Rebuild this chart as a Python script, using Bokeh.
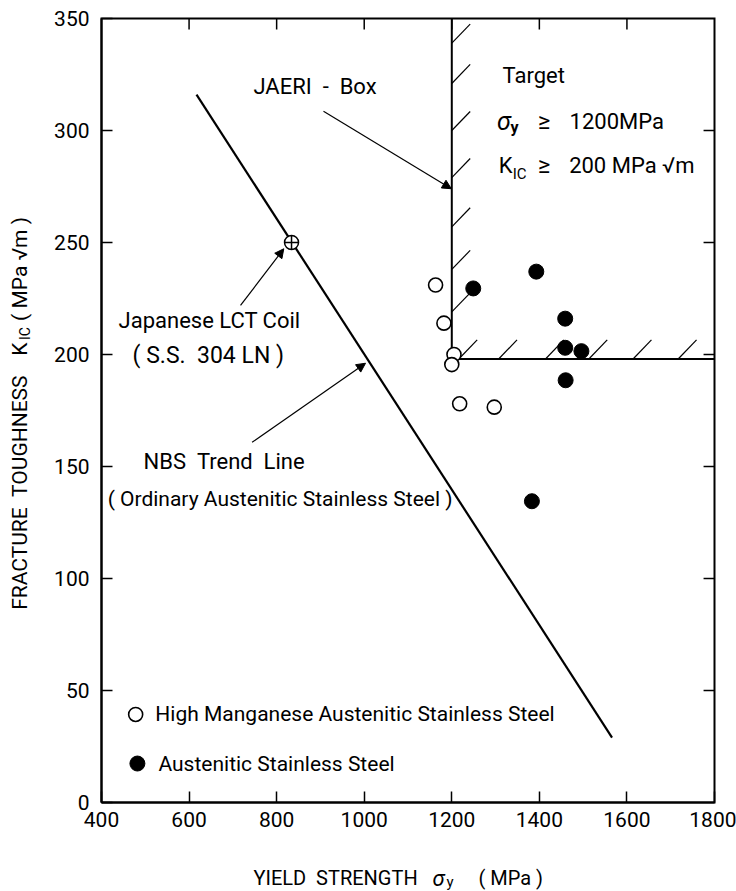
import math
from bokeh.plotting import figure
from bokeh.models import Range1d, FixedTicker, Label, Arrow, NormalHead
from bokeh.embed import file_html
from bokeh.resources import INLINE

# ---------------- data ----------------
x_ticks = [400, 600, 800, 1000, 1200, 1400, 1600, 1800]
y_ticks = [0, 50, 100, 150, 200, 250, 300, 350]

# High manganese austenitic stainless steel (open circles)
hm_x = [1163, 1182, 1205, 1200, 1218, 1297]
hm_y = [231, 214, 200, 195.5, 178, 176.5]
# Austenitic stainless steel (filled circles)
ss_x = [1249, 1393, 1459, 1459, 1496, 1460, 1383]
ss_y = [229.5, 237, 216, 203, 201.5, 188.5, 134.5]
# Japanese LCT coil (S.S. 304LN)
coil_x = [834]
coil_y = [250]
# NBS trend line
trend_x = [617, 1566]
trend_y = [316, 29]
# JAERI box boundary (sigma_y >= 1200, K_IC >= 200)
box_x = [1200, 1200, 1800]
box_y = [350, 198, 198]
# hatch anchors on the box boundary
hatch_v_y = [219, 238, 257, 279, 300, 321, 339]
hatch_h_x = [1216, 1307, 1414, 1513, 1614, 1717]

X0, X1, Y0, Y1 = 400, 1800, 0, 350
FONT = "Roboto"
S = "\u00a0"  # non-breaking space (keeps wide word spacing in SVG)

p = figure(width=736, height=891, output_backend="svg", toolbar_location=None,
           x_range=Range1d(169.33, 1850.24), y_range=Range1d(-39.73, 358.04),
           min_border=0, min_border_left=0, min_border_right=0,
           min_border_top=0, min_border_bottom=0)
p.grid.visible = False
p.background_fill_color = "white"
p.border_fill_color = "white"
p.outline_line_color = None

for ax in p.xaxis + p.yaxis:
    ax.major_tick_in = 11
    ax.major_tick_out = 0
    ax.minor_tick_line_color = None
    ax.axis_line_width = 2
    ax.major_tick_line_width = 1.5
    ax.axis_line_color = "black"
    ax.major_tick_line_color = "black"
    ax.major_label_text_font = FONT
    ax.major_label_text_font_size = "21px"
    ax.major_label_text_color = "black"
p.xaxis.ticker = FixedTicker(ticks=x_ticks)
p.yaxis.ticker = FixedTicker(ticks=y_ticks)
p.xaxis.fixed_location = Y0
p.yaxis.fixed_location = X0
p.xaxis.bounds = (X0, X1)
p.yaxis.bounds = (Y0, Y1)
p.xaxis.major_label_standoff = 9
p.yaxis.major_label_standoff = 12

# frame box and inward ticks on the top and right edges
p.line([X0, X1, X1, X0, X0], [Y0, Y0, Y1, Y1, Y0], line_color="black", line_width=2, line_join="miter")
ty = y_ticks[1:-1]
tx = x_ticks[1:-1]
p.segment(x0=[X1] * len(ty), y0=ty, x1=[X1 - 25] * len(ty), y1=ty, line_color="black", line_width=1.5)
p.segment(x0=tx, y0=[Y1] * len(tx), x1=tx, y1=[Y1 - 4.9] * len(tx), line_color="black", line_width=1.5)

# trend line and box
p.line(trend_x, trend_y, line_color="black", line_width=2.2)
p.line(box_x, box_y, line_color="black", line_width=2, line_join="miter")
hx0 = [1200] * len(hatch_v_y) + hatch_h_x
hy0 = hatch_v_y + [198] * len(hatch_h_x)
p.segment(x0=hx0, y0=hy0, x1=[v + 42 for v in hx0], y1=[v + 8.5 for v in hy0],
          line_color="black", line_width=1.2)

# data points
p.scatter(hm_x, hm_y, marker="circle", size=14, fill_color="white", line_color="black", line_width=1.6)
p.scatter(ss_x, ss_y, marker="circle", size=15, fill_color="black", line_color="black")
p.scatter(coil_x, coil_y, marker="circle_cross", size=14, fill_color="white", line_color="black", line_width=1.5)

# legend (drawn manually)
p.scatter([478], [39.3], marker="circle", size=14, fill_color="white", line_color="black", line_width=1.6)
p.scatter([482], [17.4], marker="circle", size=15, fill_color="black", line_color="black")


def lab(x, y, t, size="22px", align="left", angle=0, style="normal", baseline="middle"):
    p.add_layout(Label(x=x, y=y, text=t, text_font=FONT, text_font_size=size,
                       text_align=align, text_baseline=baseline, angle=angle,
                       text_font_style=style, text_color="black"))


lab(523, 39.3, "High Manganese Austenitic Stainless Steel", size="21px")
lab(530, 17.4, "Austenitic Stainless Steel", size="21px")

# annotations
lab(747, 319.6, "JAERI" + S + S + "-" + S + S + "Box")
lab(439, 215.2, "Japanese LCT Coil")
lab(471, 199.6, "(" + S + "S.S." + S + S + "304" + S + "LN" + S + ")", size="23px")
lab(496, 152.2, "NBS" + S + S + "Trend" + S + S + "Line")
lab(414, 135.7, "( Ordinary Austenitic Stainless Steel )", size="21px")

lab(1316, 324.5, "Target")
lab(1303, 304.2, "σ", size="25px", style="italic")
lab(1334, 301.3, "y", size="16px", style="bold")
lab(1397, 304.2, "≥", size="24px")
lab(1469, 304.2, "1200MPa")
lab(1307, 284.6, "K")
lab(1339, 280.6, "IC", size="15px")
lab(1397, 284.6, "≥", size="24px")
lab(1468, 284.6, "200 MPa √m")

head = dict(size=9, fill_color="black", line_color="black")
p.add_layout(Arrow(end=NormalHead(**head), x_start=907, y_start=308.6, x_end=1199, y_end=274, line_width=1.2))
p.add_layout(Arrow(end=NormalHead(**head), x_start=717.5, y_start=221.9, x_end=816.3, y_end=247.2, line_width=1.2))
p.add_layout(Arrow(end=NormalHead(**head), x_start=744, y_start=160.8, x_end=1003, y_end=196.1, line_width=1.2))

# axis titles (drawn as labels to allow subscripts)
lab(747, -33.9, "YIELD" + S + S + "STRENGTH", size="20px")
lab(1156, -33.9, "σ", size="22px", style="italic")
lab(1188, -35.5, "y", size="15px")
lab(1261, -33.9, "(" + S + "MPa" + S + ")", size="20px")

rot = math.pi / 2
lab(215, 86, "FRACTURE" + S + S + "TOUGHNESS", size="21px", angle=rot)
lab(215, 199.5, "K", size="21px", angle=rot)
lab(225, 206.5, "IC", size="14px", angle=rot)
lab(215, 215, "(" + S + "MPa" + S + "√m" + S + ")", size="21px", angle=rot)

open("out.html", "w").write(file_html(p, INLINE))
